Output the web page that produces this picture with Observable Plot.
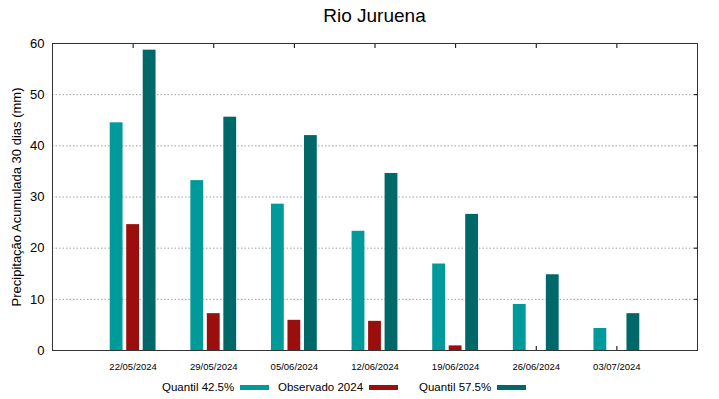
<!DOCTYPE html>
<html>
<head>
<meta charset="utf-8">
<script src="https://cdn.jsdelivr.net/npm/d3@7"></script>
<script src="https://cdn.jsdelivr.net/npm/@observablehq/plot@0.6"></script>
<style>
  html, body { margin: 0; padding: 0; background: #fff; }
  body { width: 719px; height: 399px; overflow: hidden; font-family: "Liberation Sans", Arial, sans-serif; }
  #title { height: 33px; box-sizing: border-box; padding: 5px 22px 0 52px; text-align: center; font-size: 19px; color: #000; line-height: 22px; }
  #legend { position: relative; height: 24px; font-size: 11.5px; color: #000; }
  .item { position: absolute; top: 6px; display: flex; align-items: center; }
  .sw { display: inline-block; width: 29px; height: 5px; margin-left: 6px; }
</style>
</head>
<body>
<div id="title">Rio Juruena</div>
<div id="chart"></div>
<div id="legend"></div>
<script>
const dates = ["22/05/2024", "29/05/2024", "05/06/2024", "12/06/2024", "19/06/2024", "26/06/2024", "03/07/2024"];
const quantil425 = [44.5, 33.2, 28.6, 23.3, 16.9, 9.0, 4.3];
const observado2024 = [24.6, 7.2, 5.9, 5.7, 0.9, null, null];
const quantil575 = [58.7, 45.6, 42.0, 34.6, 26.6, 14.8, 7.2];
const seriesNames = ["Quantil 42.5%", "Observado 2024", "Quantil 57.5%"];
const seriesColors = ["#009a9a", "#9a0e0e", "#006868"];
const yTicks = [0, 10, 20, 30, 40, 50, 60];
const gridTicks = [10, 20, 30, 40, 50];

const rows = dates.map((d, i) => ({date: d, q425: quantil425[i], obs: observado2024[i], q575: quantil575[i]}));

const inset = 33.9;
const plot = Plot.plot({
  width: 719,
  height: 342,
  marginLeft: 52,
  marginRight: 22,
  marginTop: 10,
  marginBottom: 25,
  style: {fontFamily: "Liberation Sans, Arial, sans-serif", color: "#000", background: "#fff"},
  x: {domain: dates, paddingInner: 0, paddingOuter: 0.5, align: 0.5, round: false},
  y: {domain: [0, 60]},
  marks: [
    Plot.ruleY(gridTicks, {stroke: "#a0a0a0", strokeDasharray: "1.5,2", strokeWidth: 1}),
    Plot.axisY(yTicks, {anchor: "left", tickSize: 0, tickPadding: 8, fontSize: 13,
      label: "Precipitação Acumulada 30 dias (mm)", labelAnchor: "center", labelOffset: 41, labelArrow: "none"}),
    Plot.axisY(yTicks, {anchor: "right", tickSize: -4, tickFormat: () => "", label: null, stroke: "#000"}),
    Plot.axisX({anchor: "bottom", tickSize: 0, tickPadding: 13, fontSize: 9.5, label: null}),
    Plot.axisX({anchor: "bottom", tickSize: -4, tickFormat: () => "", label: null, stroke: "#000"}),
    Plot.axisX({anchor: "top", tickSize: -4, tickFormat: () => "", label: null, stroke: "#000"}),
    Plot.barY(rows, {x: "date", y: "q425", fill: seriesColors[0], dx: -16.5, insetLeft: inset, insetRight: inset}),
    Plot.barY(rows.filter(r => r.obs != null), {x: "date", y: "obs", fill: seriesColors[1], insetLeft: inset, insetRight: inset}),
    Plot.barY(rows, {x: "date", y: "q575", fill: seriesColors[2], dx: 16.5, insetLeft: inset, insetRight: inset}),
    Plot.frame({stroke: "#333", strokeWidth: 1})
  ]
});
document.getElementById("chart").appendChild(plot);

const legendLefts = [162, 278, 419];
const legend = document.getElementById("legend");
seriesNames.forEach((name, i) => {
  const it = document.createElement("div");
  it.className = "item";
  it.style.left = legendLefts[i] + "px";
  it.innerHTML = `<span>${name}</span><span class="sw" style="background:${seriesColors[i]}"></span>`;
  legend.appendChild(it);
});
</script>
</body>
</html>
